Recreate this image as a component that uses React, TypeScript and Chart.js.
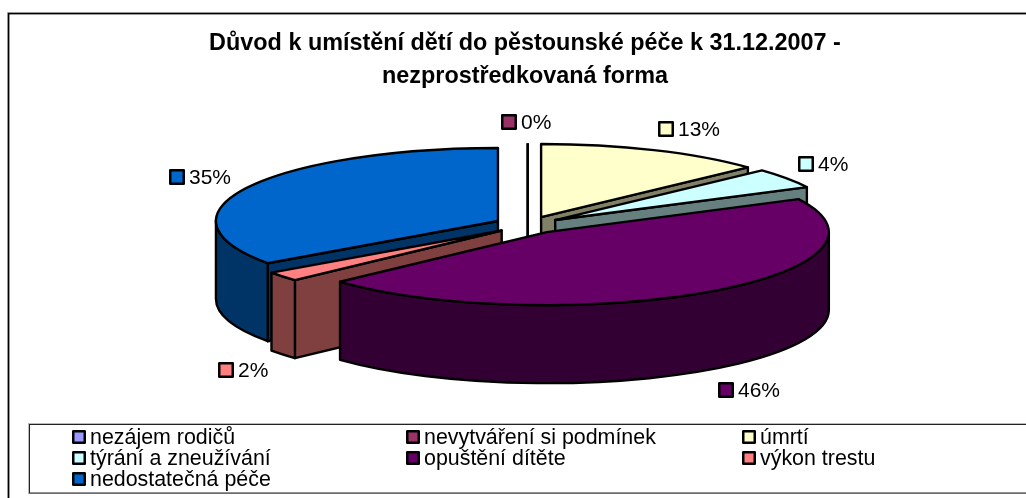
import React, { useEffect, useRef } from "react";
import { Chart, registerables } from "chart.js";

Chart.register(...registerables);

const categories = ["nezájem rodičů", "nevytváření si podmínek", "úmrtí", "týrání a zneužívání", "opuštění dítěte", "výkon trestu", "nedostatečná péče"];
const shares = [0, 0, 13.1, 4.45, 45.55, 2.1, 34.8];
const topColors = ["#9999FF", "#993366", "#FFFFCC", "#CCFFFF", "#660066", "#FF8080", "#0066CC"];
const sideColors = ["#4D4D80", "#4D1A33", "#808066", "#668080", "#330033", "#804040", "#003366"];
const titleLines = ["Důvod k umístění dětí do pěstounské péče k 31.12.2007 -", "nezprostředkovaná forma"];

// layout
const W = 1026, H = 498;
const FONT = '"Liberation Sans"';
const CENTER = { x: 527.7, y: 225 };
const SQUASH = 0.259;
const EXPLODE = 33.5;
const DEPTH = 78;
const RADIUS = 282;
const drawOrder = [0, 1, 2, 3, 6, 5, 4];
const labelSpots: Record<number, [number, number]> = { 1: [501, 122], 2: [658, 129], 3: [798, 164], 4: [718, 390], 5: [218, 370], 6: [169, 177] };
const legendSpots: [number, number][] = [[72, 437], [406, 437], [742, 437], [72, 458], [406, 458], [742, 458], [72, 479]];

function marker(ctx: CanvasRenderingContext2D, x: number, y: number, s: number, color: string) {
  ctx.fillStyle = color;
  ctx.strokeStyle = "#000";
  ctx.lineWidth = 2.5;
  ctx.lineJoin = "round";
  ctx.beginPath();
  ctx.rect(x + 1.25, y - s / 2 + 1.25, s - 2.5, s - 2.5);
  ctx.fill();
  ctx.stroke();
}

const pie3d = {
  id: "pie3d",
  beforeDatasetsDraw(chart: any) {
    const ctx: CanvasRenderingContext2D = chart.ctx;
    const arcs = chart.getDatasetMeta(0).data;
    ctx.save();
    ctx.lineJoin = "round";
    ctx.lineWidth = 2.4;
    ctx.strokeStyle = "#000";
    for (const i of drawOrder) {
      const el = arcs[i];
      const { x, y, startAngle: a0, endAngle: a1, outerRadius: r } = el.getProps(["x", "y", "startAngle", "endAngle", "outerRadius"]);
      const half = (a0 + a1) / 2;
      const px = CENTER.x + Math.cos(half) * EXPLODE;
      const py = CENTER.y + Math.sin(half) * EXPLODE * SQUASH;
      const rim = (a: number) => [px + Math.cos(a) * r, py + Math.sin(a) * r * SQUASH];
      const ry = r * SQUASH;

      if (a1 - a0 < 1e-6) {
        const [tx, ty] = rim(a0);
        ctx.beginPath();
        ctx.moveTo(tx, ty);
        ctx.lineTo(px, py + DEPTH);
        ctx.stroke();
        continue;
      }
      const cutFace = (a: number) => {
        const [tx, ty] = rim(a);
        ctx.beginPath();
        ctx.moveTo(px, py);
        ctx.lineTo(tx, ty);
        ctx.lineTo(tx, ty + DEPTH);
        ctx.lineTo(px, py + DEPTH);
        ctx.closePath();
        ctx.fillStyle = sideColors[i];
        ctx.fill();
        ctx.stroke();
      };
      if (Math.cos(a0) < -0.01) cutFace(a0);
      if (Math.cos(a1) > 0.01) cutFace(a1);
      const f0 = Math.max(a0, 0), f1 = Math.min(a1, Math.PI);
      if (f1 > f0) {
        ctx.beginPath();
        ctx.ellipse(px, py, r, ry, 0, f0, f1);
        ctx.ellipse(px, py + DEPTH, r, ry, 0, f1, f0, true);
        ctx.closePath();
        ctx.fillStyle = sideColors[i];
        ctx.fill();
        ctx.stroke();
      }
      // top face: the library's own arc, flattened
      ctx.save();
      ctx.translate(px, py);
      ctx.scale(1, SQUASH);
      ctx.translate(-x, -y);
      el.draw(ctx);
      ctx.restore();
      ctx.beginPath();
      ctx.moveTo(px, py);
      ctx.ellipse(px, py, r, ry, 0, a0, a1);
      ctx.closePath();
      ctx.stroke();
    }
    ctx.restore();
    return false;
  },
  afterDraw(chart: any) {
    const ctx: CanvasRenderingContext2D = chart.ctx;
    ctx.save();
    // frames with their faint grey upper edge
    ctx.lineWidth = 1;
    ctx.strokeStyle = "#BBBBBB";
    ctx.strokeRect(7.5, 12.5, W, H);
    ctx.strokeRect(28.5, 423.5, W, 70);
    ctx.strokeStyle = "#000";
    ctx.lineWidth = 1.6;
    ctx.strokeRect(8.6, 13.6, W, H);
    ctx.lineWidth = 1;
    ctx.strokeStyle = "#222";
    ctx.strokeRect(29.5, 424.5, W, 68.5);
    // data labels
    ctx.textBaseline = "middle";
    ctx.font = `21px ${FONT}`;
    Object.keys(labelSpots).forEach((k) => {
      const i = +k;
      const [mx, my] = labelSpots[i];
      marker(ctx, mx, my, 16, topColors[i]);
      ctx.fillStyle = "#000";
      ctx.fillText(`${Math.round(shares[i])}%`, mx + 20, my + 1);
    });
    // legend
    ctx.font = `21.4px ${FONT}`;
    categories.forEach((c, i) => {
      const [lx, ly] = legendSpots[i];
      marker(ctx, lx, ly, 14, topColors[i]);
      ctx.fillStyle = "#000";
      ctx.fillText(c, lx + 18, ly + 1);
    });
    ctx.restore();
  },
};

export default function App() {
  const ref = useRef<HTMLCanvasElement>(null);
  useEffect(() => {
    document.body.style.margin = "0";
    const chart = new Chart(ref.current!, {
      type: "pie",
      data: {
        labels: categories,
        datasets: [{ data: shares, backgroundColor: topColors, borderWidth: 0, clip: false } as any],
      },
      options: {
        animation: false,
        responsive: false,
        radius: RADIUS,
        layout: { padding: { left: 24, top: 27 } },
        events: [],
        plugins: {
          legend: { display: false },
          tooltip: { enabled: false },
          title: {
            display: true,
            fullSize: false,
            text: titleLines,
            color: "#000",
            font: { family: FONT, size: 23.4, weight: "bold", lineHeight: 1.41 },
            padding: 0,
          },
        },
      } as any,
      plugins: [pie3d],
    });
    return () => chart.destroy();
  }, []);
  return <canvas ref={ref} width={W} height={H} style={{ display: "block" }} />;
}
